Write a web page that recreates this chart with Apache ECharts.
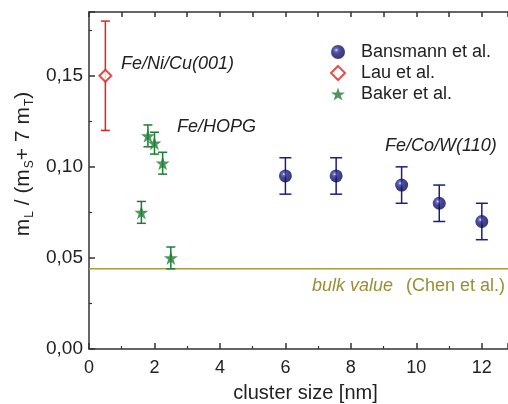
<!DOCTYPE html>
<html>
<head>
<meta charset="utf-8">
<script src="https://cdn.jsdelivr.net/npm/echarts@6/dist/echarts.min.js"></script>
<style>
  html, body { margin: 0; padding: 0; background: #fff; }
  #chart { width: 508px; height: 404px; }
</style>
</head>
<body>
<div id="chart"></div>
<script>
// Cluster size (nm), ratio m_L/(m_S+7m_T), and error bar half-widths
const bansmannX = [6.0, 7.55, 9.55, 10.7, 12.0];
const bansmannY = [0.095, 0.095, 0.090, 0.080, 0.070];
const bansmannErr = [0.010, 0.010, 0.010, 0.010, 0.010];

const lauX = [0.5];
const lauY = [0.150];
const lauErr = [0.030];

const bakerX = [1.6, 1.8, 2.0, 2.25, 2.5];
const bakerY = [0.075, 0.117, 0.113, 0.102, 0.050];
const bakerErr = [0.006, 0.006, 0.006, 0.006, 0.006];

const bulkValue = 0.044;

const yTicks = ['0,00', '0,05', '0,10', '0,15'];

const NAVY = '#1c1c86';
const RED = '#e3211c';
const GREEN = '#1f7d33';
const OLIVE = '#a89c3c';
const FONT = '"Liberation Sans", Arial, Helvetica, sans-serif';

const STAR = 'path://M50,0 L61.8,35.4 L99,35.4 L69.1,57.3 L80.9,92.7 L50,70.8 L19.1,92.7 L30.9,57.3 L1,35.4 L38.2,35.4 Z';

function toPoints(xs, ys) { return xs.map((x, i) => [x, ys[i]]); }
function toBars(xs, ys, es) { return xs.map((x, i) => [x, ys[i] - es[i], ys[i] + es[i]]); }

function errorBars(name, xs, ys, es, color, capHalf) {
  return {
    type: 'custom',
    name: name + ' err',
    z: 2,
    silent: true,
    data: toBars(xs, ys, es),
    renderItem: function (params, api) {
      const x = api.value(0);
      const lo = api.coord([x, api.value(1)]);
      const hi = api.coord([x, api.value(2)]);
      const style = { stroke: color, lineWidth: 1.5 };
      return {
        type: 'group',
        children: [
          { type: 'line', shape: { x1: lo[0], y1: lo[1], x2: hi[0], y2: hi[1] }, style: style },
          { type: 'line', shape: { x1: lo[0] - capHalf, y1: lo[1], x2: lo[0] + capHalf, y2: lo[1] }, style: style },
          { type: 'line', shape: { x1: hi[0] - capHalf, y1: hi[1], x2: hi[0] + capHalf, y2: hi[1] }, style: style }
        ]
      };
    }
  };
}

// shaded sphere look for the Bansmann markers
const sphere = {
  type: 'radial', x: 0.38, y: 0.36, r: 0.62,
  colorStops: [
    { offset: 0, color: '#e8e8ff' },
    { offset: 0.18, color: '#4a4ab4' },
    { offset: 0.45, color: '#1a1a80' },
    { offset: 1, color: '#0a0a50' }
  ]
};

const chart = echarts.init(document.getElementById('chart'), null, { renderer: 'canvas' });

chart.setOption({
  animation: false,
  backgroundColor: '#fff',
  grid: { left: 89, top: 12, right: 0, bottom: 55, outerBoundsMode: 'none', containLabel: false },
  legend: {
    orient: 'vertical',
    left: 325,
    top: 38,
    itemGap: 3,
    itemWidth: 14,
    itemHeight: 14,
    textStyle: { fontFamily: FONT, fontSize: 18, color: '#222', padding: [0, 0, 0, 11] },
    data: ['Bansmann et al.', 'Lau et al.', 'Baker et al.']
  },
  xAxis: [{
    type: 'value',
    min: 0, max: 12.8, interval: 2,
    name: 'cluster size [nm]',
    nameLocation: 'middle',
    nameGap: 34,
    nameTextStyle: { fontFamily: FONT, fontSize: 20, color: '#222', padding: [0, 0, 0, 14] },
    axisLine: { lineStyle: { color: '#333', width: 1.5 } },
    axisTick: { inside: true, length: 6, lineStyle: { color: '#333', width: 1.5 } },
    minorTick: { show: true, splitNumber: 2, length: 3, lineStyle: { color: '#333', width: 1.2 } },
    axisLabel: { fontFamily: FONT, fontSize: 18, color: '#222', margin: 10, showMaxLabel: false },
    splitLine: { show: false }
  }, {
    type: 'value',
    position: 'top',
    min: 0, max: 12.8, interval: 1,
    axisLine: { show: true, lineStyle: { color: '#333', width: 1.5 } },
    axisTick: { show: true, inside: true, length: 5, lineStyle: { color: '#333', width: 1.5 } },
    axisLabel: { show: false },
    splitLine: { show: false }
  }],
  yAxis: {
    type: 'value',
    min: 0, max: 0.185, interval: 0.05,
    axisLine: { show: true, lineStyle: { color: '#333', width: 1.5 } },
    axisTick: { show: true, inside: true, length: 6, lineStyle: { color: '#333', width: 1.5 } },
    minorTick: { show: true, splitNumber: 2, length: 3, lineStyle: { color: '#333', width: 1.2 } },
    axisLabel: {
      fontFamily: FONT, fontSize: 19, color: '#222', margin: 6, showMaxLabel: false,
      formatter: function (v) {
        const i = Math.round(v / 0.05);
        return yTicks[i] !== undefined ? yTicks[i] : '';
      }
    },
    splitLine: { show: false }
  },
  series: [
    errorBars('Bansmann et al.', bansmannX, bansmannY, bansmannErr, NAVY, 6),
    errorBars('Lau et al.', lauX, lauY, lauErr, RED, 4.5),
    errorBars('Baker et al.', bakerX, bakerY, bakerErr, GREEN, 4.5),
    {
      type: 'line',
      name: 'bulk',
      data: [[0, bulkValue], [12.8, bulkValue]],
      symbol: 'none',
      lineStyle: { color: OLIVE, width: 1.5 },
      z: 1,
      silent: true
    },
    {
      type: 'scatter',
      name: 'Bansmann et al.',
      data: toPoints(bansmannX, bansmannY),
      symbol: 'circle',
      symbolSize: 13,
      itemStyle: { color: sphere },
      z: 5
    },
    {
      type: 'scatter',
      name: 'Lau et al.',
      data: toPoints(lauX, lauY),
      symbol: 'diamond',
      symbolSize: 12,
      itemStyle: { color: '#fff', borderColor: RED, borderWidth: 2 },
      z: 5
    },
    {
      type: 'scatter',
      name: 'Baker et al.',
      data: toPoints(bakerX, bakerY),
      symbol: STAR,
      symbolSize: 14,
      itemStyle: { color: GREEN },
      z: 5
    }
  ],
  graphic: [
    {
      type: 'text', left: 121, top: 55,
      style: { text: 'Fe/Ni/Cu(001)', font: 'italic 18px ' + FONT, fill: '#222' }
    },
    {
      type: 'text', left: 177, top: 118,
      style: { text: 'Fe/HOPG', font: 'italic 18px ' + FONT, fill: '#222' }
    },
    {
      type: 'text', left: 385, top: 137,
      style: { text: 'Fe/Co/W(110)', font: 'italic 18px ' + FONT, fill: '#222' }
    },
    {
      type: 'text', left: 312, top: 277,
      style: { text: 'bulk value', font: 'italic 18px ' + FONT, fill: '#9a8e34' }
    },
    {
      type: 'text', left: 406, top: 277,
      style: { text: '(Chen et al.)', font: '18px ' + FONT, fill: '#9a8e34' }
    },
    {
      type: 'text',
      x: 23, y: 164,
      rotation: Math.PI / 2,
      style: {
        text: 'm{s|L} / (m{s|S}+ 7 m{s|T})',
        font: '21px ' + FONT,
        fill: '#222',
        align: 'center',
        verticalAlign: 'middle',
        rich: {
          s: { fontSize: 12, fontFamily: FONT, fill: '#222', padding: [13, 0, 0, 1] }
        }
      }
    }
  ]
});
</script>
</body>
</html>
